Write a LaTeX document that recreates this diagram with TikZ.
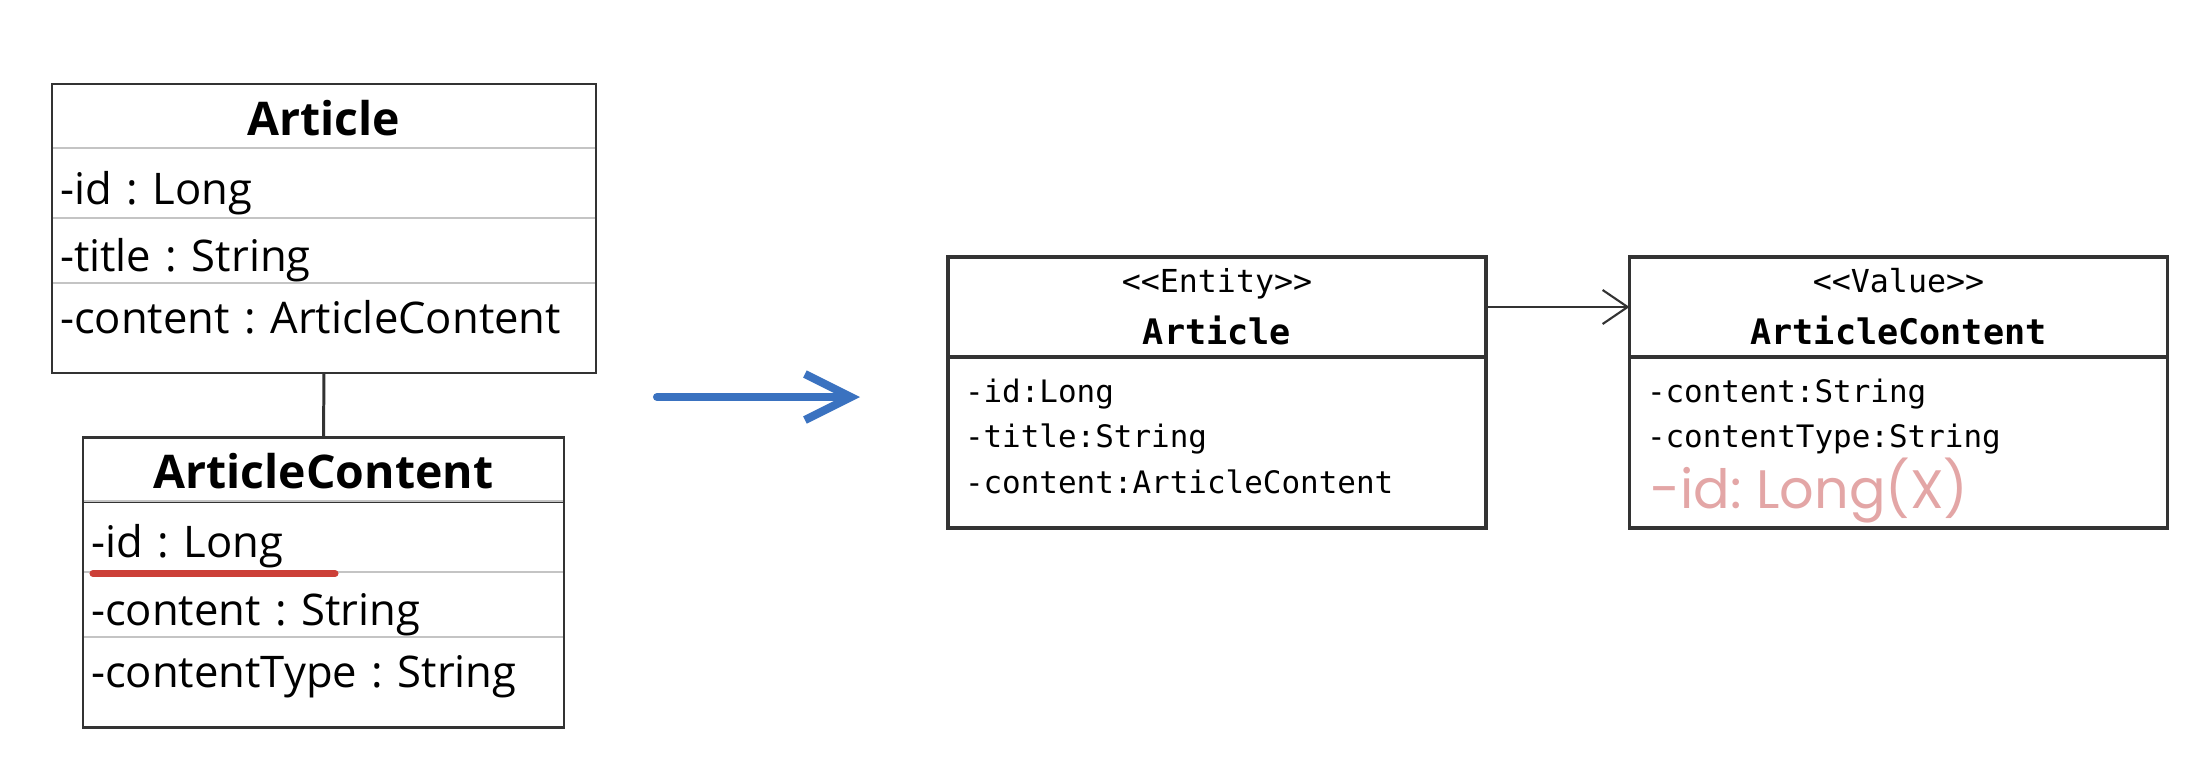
\documentclass[tikz,border=0pt]{standalone}
\usepackage{fontspec}
\usetikzlibrary{arrows.meta,positioning}
\newfontfamily\umlsans{Open Sans}
\newfontfamily\umlmono{DejaVu Sans Mono}
\newfontfamily\umlhand{Poppins}
\definecolor{umlblack}{HTML}{333333}
\definecolor{umlrow}{HTML}{C4C4C4}
\definecolor{umlred}{HTML}{CC4038}
\definecolor{umlblue}{HTML}{3A72C0}
\definecolor{umlpink}{HTML}{E3A6A6}
\newcommand\umlstereo[1]{{\fontsize{9}{14.8}\selectfont #1}}
\frenchspacing

\begin{document}
\begin{tikzpicture}[
  hdr/.style={draw=umlblack, line width=0.85pt, outer sep=0pt, inner sep=0pt,
    font=\umlsans\bfseries\fontsize{13.2}{15}\selectfont, text height=0.5cm, text depth=0.12cm},
  row/.style={draw=umlrow, line width=0.55pt, outer sep=0pt, inner xsep=0.08cm, inner ysep=0pt,
    font=\umlsans\fontsize{12.4}{14}\selectfont, align=left, text width=#1,
    text height=0.5cm, text depth=0.08cm},
  frame/.style={draw=umlblack, line width=0.85pt},
  mhdr/.style={draw=umlblack, line width=0.9pt, outer sep=0pt, inner sep=0pt, align=center,
    minimum width=5.38cm, minimum height=1.0cm, font=\umlmono\fontsize{10}{14.8}\selectfont},
  mbody/.style={draw=umlblack, line width=0.9pt, outer sep=0pt, inner sep=0pt,
    minimum width=5.38cm, minimum height=1.71cm},
  mattr/.style={inner sep=0pt, outer sep=0pt, font=\umlmono\fontsize{8.8}{12.9}\selectfont,
    text height=0.30cm, text depth=0.155cm},
]
\useasboundingbox (0,0) rectangle (22.10,-7.82);

% before: two classes with their own id
\node[hdr, minimum width=5.44cm, minimum height=0.64cm] (art) at (3.24,-1.16) {Article};
\node[row=5.28cm, minimum height=0.70cm, below=0pt of art] (artid) {-id : Long};
\node[row=5.28cm, minimum height=0.65cm, below=0pt of artid] (arttitle) {-title : String};
\node[row=5.28cm, minimum height=0.90cm, text depth=0.4cm, below=0pt of arttitle] (artcontent) {-content : ArticleContent};
\draw[frame] (art.north west) rectangle (artcontent.south east);

\node[hdr, minimum width=4.81cm, minimum height=0.64cm] (ac) at (3.235,-4.69) {ArticleContent};
\node[row=4.65cm, minimum height=0.71cm, below=0pt of ac] (acid) {-id : Long};
\node[row=4.65cm, minimum height=0.65cm, below=0pt of acid] (accontent) {-content : String};
\node[row=4.65cm, minimum height=0.89cm, text depth=0.4cm, below=0pt of accontent] (actype) {-contentType : String};
\draw[frame] (ac.north west) rectangle (actype.south east);

\draw[frame] (artcontent.south) -- (ac.north);
\draw[umlred, line width=2pt, line cap=round] (0.93,-5.735) -- (3.35,-5.735);

% blue arrow
\coordinate (flowstart) at (6.57,-3.97);
\coordinate (flowend) at (8.60,-3.97);
\draw[umlblue, line width=2.3pt, line cap=round, line join=round,
  -{Straight Barb[length=4.6mm, width=4.6mm]}] (flowstart) -- (flowend);

% after: entity and value
\node[mhdr] (ent) at (12.17,-3.07) {\umlstereo{<{}<Entity>{}>}\\\textbf{Article}};
\node[mbody, below=0pt of ent] (entbody) {};
\node[mattr, anchor=base west] (entid) at (9.65,-4.02) {-id:Long};
\node[mattr, below right=0pt and 0pt of entid.south west] (enttitle) {-title:String};
\node[mattr, below right=0pt and 0pt of enttitle.south west] (entcontent) {-content:ArticleContent};

\node[mhdr] (val) at (18.985,-3.07) {\umlstereo{<{}<Value>{}>}\\\textbf{ArticleContent}};
\node[mbody, below=0pt of val] (valbody) {};
\node[mattr, anchor=base west] (valcontent) at (16.47,-4.02) {-content:String};
\node[mattr, below right=0pt and 0pt of valcontent.south west] (valtype) {-contentType:String};
\node[anchor=base west, inner sep=0pt, text=umlpink, font=\umlhand\fontsize{15.4}{17}\selectfont]
  (valid) at (16.50,-5.08) {-id: Long(X)};

\draw[umlblack, line width=0.6pt, -{Straight Barb[length=2.5mm, width=3.4mm]}] (ent.east) -- (val.west);
\end{tikzpicture}
\end{document}
